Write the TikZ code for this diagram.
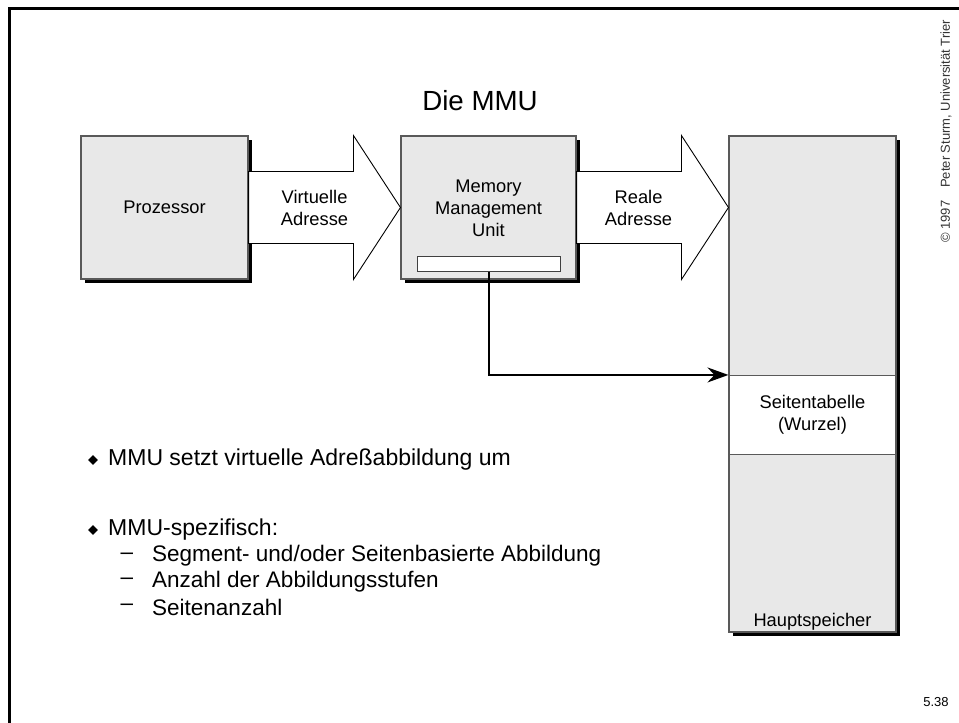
\documentclass[tikz,border=0pt]{standalone}
\usepackage{fontspec}
\setmainfont{Liberation Sans}
\usetikzlibrary{shadows,arrows.meta,calc,shapes.geometric}
\begin{document}
\begin{tikzpicture}[x=1pt,y=-1pt,
  box/.style={draw=black!65, line width=1.1pt, fill=black!9, inner sep=0pt, align=center,
    font=\fontsize{18.3}{22}\selectfont,
    drop shadow={shadow xshift=4pt, shadow yshift=-4pt, fill=black, opacity=1}},
  lbl/.style={font=\fontsize{18.3}{22}\selectfont, align=center, inner sep=0pt},
  blockarrow/.style={draw=black, line width=0.9pt, fill=white, line join=miter},
  link/.style={line width=2pt, -{Stealth[length=21pt,width=15pt,inset=7pt]}},
  item/.style={font=\fontsize{23}{27}\selectfont, anchor=west, inner sep=0pt},
  subitem/.style={font=\fontsize{22.5}{25}\selectfont, anchor=west, inner sep=0pt},
  bulletmark/.style={diamond, fill=black, inner sep=0pt, minimum size=10pt},
  small/.style={font=\fontsize{13}{15}\selectfont, inner sep=0pt},
]
\useasboundingbox (0,0) rectangle (959,723);
\fill[white] (0,0) rectangle (959,723);

% slide frame
\draw[line width=3pt] (9.5,723) -- (9.5,8.5) -- (959,8.5);

% title
\node[font=\fontsize{27.7}{32}\selectfont, inner sep=0pt] (title) at (480,101) {Die MMU};

% boxes
\node[box, minimum width=167pt, minimum height=143pt] (proz) at (164.5,207.5) {Prozessor};
\node[box, minimum width=175pt, minimum height=143pt] (mmu) at (488.5,207.5) {};
\node[lbl] (mmutext) at (488.5,208) {Memory\\Management\\Unit};
\node[draw=black!75, line width=1pt, fill=white, minimum width=143pt, minimum height=15pt, inner sep=0pt] (tlb) at (488.5,263.5) {};
\node[box, minimum width=167pt, minimum height=496pt] (mem) at (812.5,384) {};
\node[draw=black!65, line width=1.1pt, fill=white, minimum width=167pt, minimum height=79pt, inner sep=0pt, lbl] (pt) at (812.5,415) {Seitentabelle\\(Wurzel)};
\node[lbl] (memlabel) at ($(mem.south)+(0,-11)$) {Hauptspeicher};

% block arrows
\draw[blockarrow] ($(proz.east)+(0,-36)$) -- ($(mmu.west)+(-47,-36)$) -- ($(mmu.west)+(-47,-72)$)
  -- (mmu.west) -- ($(mmu.west)+(-47,72)$) -- ($(mmu.west)+(-47,36)$) -- ($(proz.east)+(0,36)$) -- cycle;
\node[lbl] (va) at ($(proz.east)+(66,0)$) {Virtuelle\\Adresse};
\draw[blockarrow] ($(mmu.east)+(0,-36)$) -- ($(mem.west|-mmu.west)+(-47,-36)$) -- ($(mem.west|-mmu.west)+(-47,-72)$)
  -- (mem.west|-mmu.west) -- ($(mem.west|-mmu.west)+(-47,72)$) -- ($(mem.west|-mmu.west)+(-47,36)$) -- ($(mmu.east)+(0,36)$) -- cycle;
\node[lbl] (ra) at ($(mmu.east)+(62,0)$) {Reale\\Adresse};

% page table pointer
\draw[link] (tlb.south) |- (pt.north west);

% bullet list
\node[item] (b1) at (108,460) {MMU setzt virtuelle Adreßabbildung um};
\node[bulletmark] at ($(b1.west)+(-15,0)$) {};
\node[item] (b2) at (108,530) {MMU-spezifisch:};
\node[bulletmark] at ($(b2.west)+(-15,0)$) {};
\node[subitem] (s1) at (152,556) {Segment- und/oder Seitenbasierte Abbildung};
\node[subitem, anchor=center] at ($(s1.west)+(-25,0)$) {–};
\node[subitem] (s2) at (152,581.5) {Anzahl der Abbildungsstufen};
\node[subitem, anchor=center] at ($(s2.west)+(-25,0)$) {–};
\node[subitem] (s3) at (152,607) {Seitenanzahl};
\node[subitem, anchor=center] at ($(s3.west)+(-25,0)$) {–};

% margin notes
\node[small, rotate=90, anchor=west, text=black!80] (copy) at (946,243) {© 1997\quad Peter Sturm, Universität Trier};
\node[small] (page) at (936,702) {5.38};
\end{tikzpicture}
\end{document}
